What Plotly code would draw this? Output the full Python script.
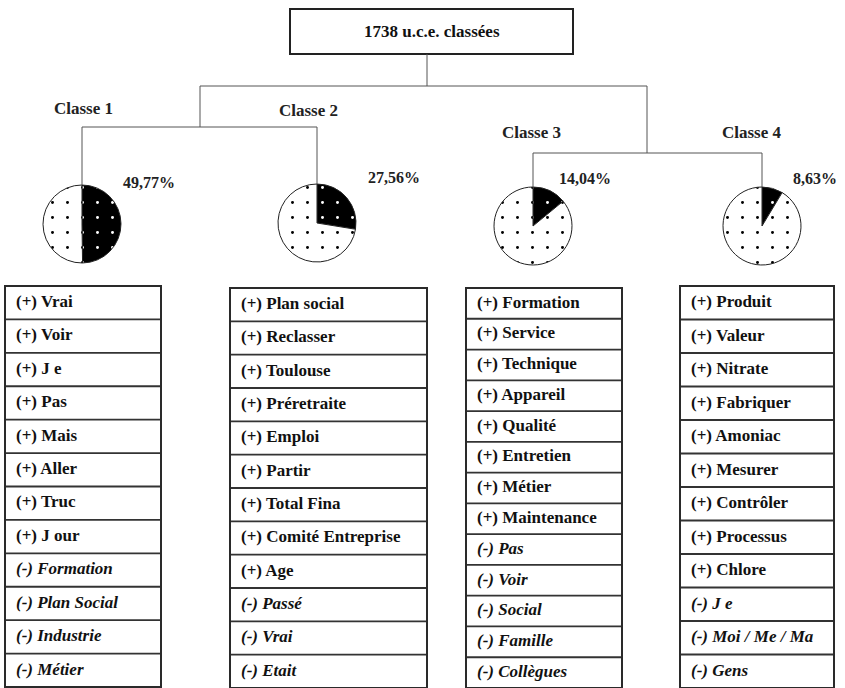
import plotly.graph_objects as go

# ---- data ----
root_label = "1738 u.c.e. classées"
classes = ["Classe 1", "Classe 2", "Classe 3", "Classe 4"]
percents = [49.77, 27.56, 14.04, 8.63]
words_c1 = ["(+) Vrai", "(+) Voir", "(+) J e", "(+) Pas", "(+) Mais", "(+) Aller", "(+) Truc",
            "(+) J our", "(-) Formation", "(-) Plan Social", "(-) Industrie", "(-) Métier"]
words_c2 = ["(+) Plan social", "(+) Reclasser", "(+) Toulouse", "(+) Préretraite", "(+) Emploi",
            "(+) Partir", "(+) Total Fina", "(+) Comité Entreprise", "(+) Age", "(-) Passé",
            "(-) Vrai", "(-) Etait"]
words_c3 = ["(+) Formation", "(+) Service", "(+) Technique", "(+) Appareil", "(+) Qualité",
            "(+) Entretien", "(+) Métier", "(+) Maintenance", "(-) Pas", "(-) Voir",
            "(-) Social", "(-) Famille", "(-) Collègues"]
words_c4 = ["(+) Produit", "(+) Valeur", "(+) Nitrate", "(+) Fabriquer", "(+) Amoniac",
            "(+) Mesurer", "(+) Contrôler", "(+) Processus", "(+) Chlore", "(-) J e",
            "(-) Moi / Me / Ma", "(-) Gens"]
word_lists = [words_c1, words_c2, words_c3, words_c4]

# ---- layout geometry (pixels) ----
W, H = 845, 688
FONT = "Liberation Serif"
pie_cx = [82, 317, 533, 762]
pie_cy = [224, 223, 226, 226]
pie_r = 39
lab_pos = [(83, 108), (308, 110), (531, 132), (752, 132)]
pct_pos = [(149, 182), (394, 177), (585, 178), (815, 178)]
tables = [  # x0, x1, y0, y1
    (5, 161, 286, 687),
    (230, 427, 288, 688),
    (466, 622, 288, 688),
    (680, 834, 286, 688),
]
PAD = 11

fig = go.Figure()

def px(x):
    return min(max(x / W, 0), 1)

def py(y):
    return min(max(1 - y / H, 0), 1)

# pies
for i, p in enumerate(percents):
    cx, cy = pie_cx[i], pie_cy[i]
    fig.add_trace(go.Pie(
        values=[p, 100 - p], sort=False, direction="clockwise", rotation=0,
        textinfo="none", hoverinfo="skip", showlegend=False,
        marker=dict(colors=["black", "white"],
                    line=dict(color="#222", width=1),
                    pattern=dict(shape=[".", "."], fgcolor=["white", "black"],
                                 bgcolor=["black", "white"], size=15, solidity=0.03,
                                 fillmode="replace")),
        domain=dict(x=[px(cx - pie_r), px(cx + pie_r)], y=[py(cy + pie_r), py(cy - pie_r)]),
    ))

shapes = []
# word tables: one text trace per class, rows laid out on the page axis
for i, words in enumerate(word_lists):
    x0, x1, y0, y1 = tables[i]
    n = len(words)
    rowh = (y1 - y0) / n
    fmt = [("<b>" + w + "</b>") if w.startswith("(+)") else ("<b><i>" + w + "</i></b>") for w in words]
    fig.add_trace(go.Scatter(
        x=[x0 + PAD] * n, y=[y0 + (k + 0.5) * rowh for k in range(n)],
        mode="text", text=fmt, textposition="middle right",
        textfont=dict(family=FONT, size=17, color="#111"),
        hoverinfo="skip", showlegend=False,
    ))
    for k in range(1, n):
        shapes.append(dict(type="line", xref="x", yref="y", x0=x0, x1=x1,
                           y0=y0 + k * rowh, y1=y0 + k * rowh,
                           line=dict(color="#333", width=1.8)))
    shapes.append(dict(type="rect", xref="x", yref="y", x0=x0, x1=x1, y0=y0, y1=y1,
                       line=dict(color="#2a2a2a", width=2), fillcolor="rgba(0,0,0,0)"))

# connectors
line = dict(color="#555", width=1)
def seg(xa, ya, xb, yb):
    shapes.append(dict(type="line", xref="x", yref="y", x0=xa, y0=ya, x1=xb, y1=yb, line=line))

root_x0, root_x1, root_y0, root_y1 = 290, 573, 9, 54
shapes.append(dict(type="rect", xref="x", yref="y", x0=root_x0, x1=root_x1, y0=root_y0, y1=root_y1,
                   line=dict(color="#222", width=2), fillcolor="white"))
seg(427, root_y1, 427, 86)
seg(200, 86, 647, 86)
seg(200, 86, 200, 127)
seg(pie_cx[0], 127, pie_cx[1], 127)
seg(pie_cx[0], 127, pie_cx[0], pie_cy[0] - pie_r)
seg(pie_cx[1], 127, pie_cx[1], pie_cy[1] - pie_r)
seg(647, 86, 647, 153)
seg(pie_cx[2], 153, pie_cx[3], 153)
seg(pie_cx[2], 153, pie_cx[2], pie_cy[2] - pie_r)
seg(pie_cx[3], 153, pie_cx[3], pie_cy[3] - pie_r)

ann = []
ann.append(dict(x=(root_x0 + root_x1) / 2, y=(root_y0 + root_y1) / 2, xref="x", yref="y",
                text="<b>" + root_label + "</b>", showarrow=False,
                font=dict(family=FONT, size=17, color="#111")))
for i, c in enumerate(classes):
    ann.append(dict(x=lab_pos[i][0], y=lab_pos[i][1], xref="x", yref="y", text="<b>" + c + "</b>",
                    showarrow=False, font=dict(family=FONT, size=17, color="#222")))
    ann.append(dict(x=pct_pos[i][0], y=pct_pos[i][1], xref="x", yref="y",
                    text="<b>" + f"{percents[i]:.2f}".replace(".", ",") + "%</b>",
                    showarrow=False, font=dict(family=FONT, size=16, color="#222")))

fig.update_layout(
    width=W, height=H, margin=dict(l=0, r=0, t=0, b=0),
    paper_bgcolor="white", plot_bgcolor="white",
    xaxis=dict(range=[0, W], visible=False, domain=[0, 1], fixedrange=True),
    yaxis=dict(range=[H, 0], visible=False, domain=[0, 1], fixedrange=True),
    shapes=shapes, annotations=ann, showlegend=False,
)

fig.write_html("out.html", config={"displayModeBar": False},
               post_script="document.body.style.margin='0';")
